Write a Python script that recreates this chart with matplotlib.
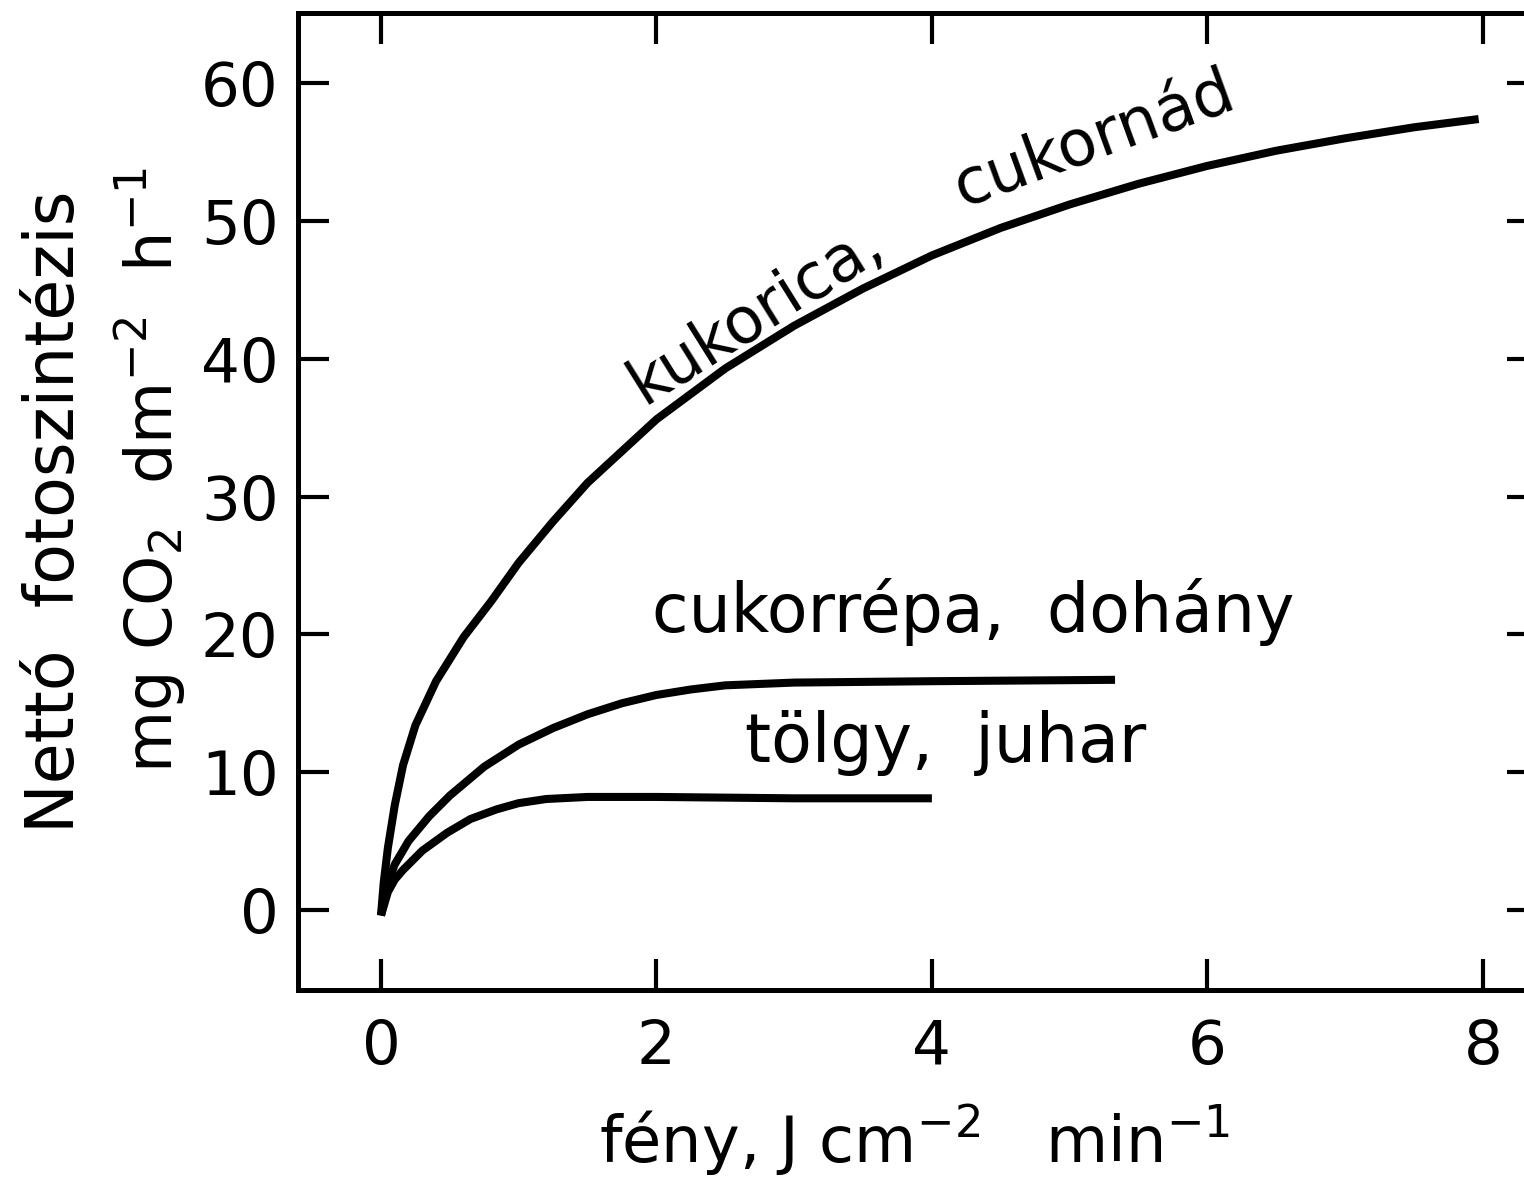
"""Net photosynthesis vs. light intensity for C4 plants, sun plants and trees (redrawn scan)."""

import matplotlib

matplotlib.use("Agg")
import matplotlib.pyplot as plt

# kukorica, cukornád (C4)
corn_x = [0.0, 0.02, 0.05, 0.1, 0.16, 0.25, 0.4, 0.6, 0.8, 1.0, 1.25, 1.5,
          2.0, 2.5, 3.0, 3.5, 4.0, 4.5, 5.0, 5.5, 6.0, 6.5, 7.0, 7.5, 7.97]
corn_y = [-0.4, 2.0, 4.5, 7.6, 10.5, 13.4, 16.6, 19.8, 22.4, 25.2, 28.2, 31.0,
          35.6, 39.3, 42.4, 45.1, 47.5, 49.5, 51.2, 52.7, 54.0, 55.1, 56.0, 56.8, 57.4]

# cukorrépa, dohány
beet_x = [0.0, 0.05, 0.1, 0.2, 0.35, 0.5, 0.75, 1.0, 1.25, 1.5, 1.75, 2.0,
          2.25, 2.5, 3.0, 4.0, 5.33]
beet_y = [-0.4, 2.0, 3.3, 5.0, 6.8, 8.3, 10.4, 12.0, 13.2, 14.2, 15.0, 15.6,
          16.0, 16.3, 16.5, 16.6, 16.7]

# tölgy, juhar
oak_x = [0.0, 0.05, 0.1, 0.16, 0.3, 0.48, 0.65, 0.84, 1.0, 1.2, 1.5, 2.0, 3.0, 4.0]
oak_y = [-0.4, 1.3, 2.2, 2.9, 4.3, 5.6, 6.6, 7.3, 7.75, 8.05, 8.2, 8.2, 8.1, 8.1]

x_ticks = [0, 2, 4, 6, 8]
y_ticks = [0, 10, 20, 30, 40, 50, 60]

plt.rcParams["font.family"] = ["DejaVu Sans"]
plt.rcParams["mathtext.fontset"] = "dejavusans"

fig = plt.figure(figsize=(15.24, 11.77), dpi=100)
ax = fig.add_axes([0.1955, 0.1589, 0.8136, 0.8301])

for xs, ys in ((corn_x, corn_y), (beet_x, beet_y), (oak_x, oak_y)):
    ax.plot(xs, ys, color="black", linewidth=5.8, solid_capstyle="butt",
            solid_joinstyle="round")

ax.set_xlim(-0.603, 8.40)
ax.set_ylim(-5.81, 65.1)
ax.set_xticks(x_ticks)
ax.set_yticks(y_ticks)
for s in ax.spines.values():
    s.set_linewidth(3.6)
ax.tick_params(direction="in", length=22, width=3, top=True, right=True,
               labelsize=44)
ax.tick_params(axis="y", pad=14)
ax.tick_params(axis="x", pad=20)

# curve labels
ax.text(2.72, 43.3, "kukorica,", fontsize=46, rotation=32,
        ha="center", va="center")
ax.text(5.18, 55.9, "cukornád", fontsize=46, rotation=20,
        ha="center", va="center")
ax.text(4.30, 20.2, "cukorrépa,  dohány", fontsize=48, ha="center", va="baseline")
ax.text(4.10, 10.7, "tölgy,  juhar", fontsize=48, ha="center", va="baseline")

# axis titles
fig.text(915 / 1524, 1 - 1140 / 1177, r"fény, J cm$^{-2}$   min$^{-1}$",
         fontsize=46, ha="center", va="center")
fig.text(55 / 1524, 1 - 512 / 1177, "Nettó  fotoszintézis", fontsize=48,
         rotation=90, ha="center", va="center")
fig.text(150 / 1524, 1 - 470 / 1177, r"mg CO$_2$  dm$^{-2}$  h$^{-1}$",
         fontsize=46, rotation=90, ha="center", va="center")

fig.savefig("out.png", dpi=100)
